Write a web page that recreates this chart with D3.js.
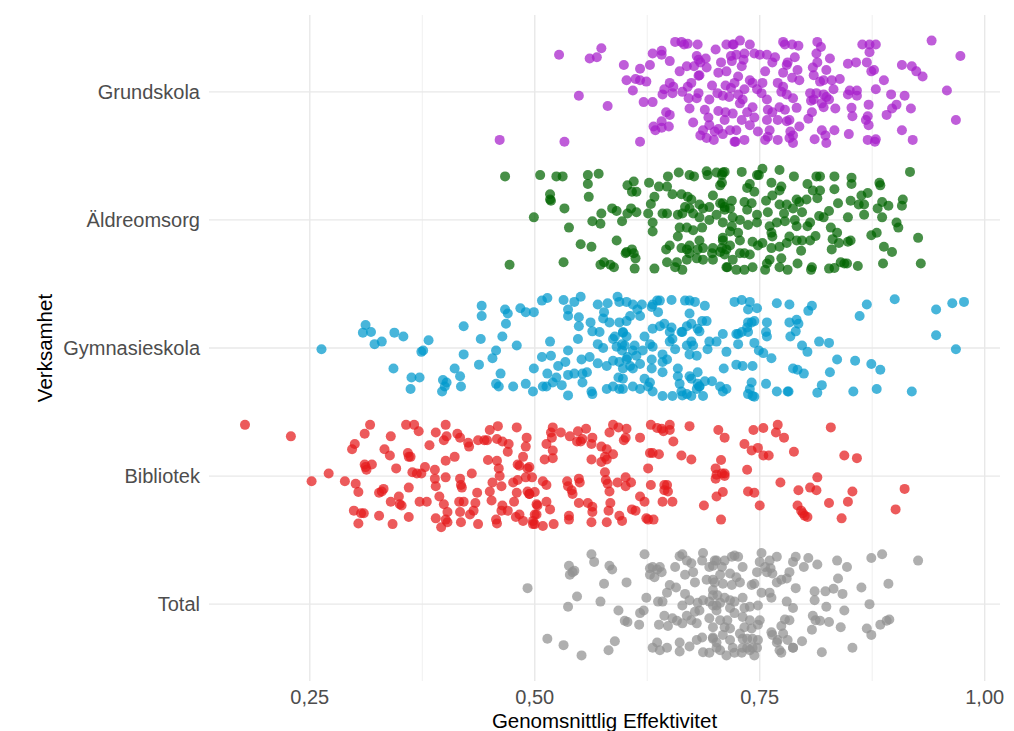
<!DOCTYPE html>
<html>
<head>
<meta charset="utf-8">
<script src="https://cdn.jsdelivr.net/npm/d3@7"></script>
<style>
  html, body { margin: 0; padding: 0; background: #ffffff; }
  svg { display: block; font-family: "Liberation Sans", Arial, sans-serif; }
</style>
</head>
<body>
<svg id="chart" width="1014" height="731"></svg>
<script>
// Verksamheter, listed top to bottom
const categories = ["Grundskola", "Äldreomsorg", "Gymnasieskola", "Bibliotek", "Total"];
const colors = ["#A61ECB", "#006400", "#0099CC", "#E41A1C", "#909090"];

// x-axis ticks
const xTicks = [0.25, 0.50, 0.75, 1.00];
const xTickLabels = ["0,25", "0,50", "0,75", "1,00"];
const xMinorTicks = [0.375, 0.625, 0.875];

// Each unit: [genomsnittlig effektivitet, vertical jitter within the row]
const grundskola = [
[.527,.29],[.561,.26],[.569,.27],[.574,.34],[.549,-.03],[.581,-.11],[.461,-.375],[.533,-.39],[.617,-.39],
[.599,.21],[.617,.18],[.628,.21],[.631,.30],[.641,.32],[.641,.29],[.650,.24],[.656,.39],[.663,.39],[.666,.37],
[.670,.375],[.681,.37],[.680,.28],[.682,.25],[.684,.23],[.690,.26],[.701,.33],[.713,.37],[.721,.37],[.661,.16],
[.669,.20],[.677,.20],[.682,.125],[.691,.19],[.707,.23],[.704,.15],[.713,.16],[.719,.24],[.718,.28],[.602,.09],
[.612,.10],[.617,.09],[.624,.08],[.609,.01],[.621,-.08],[.631,-.08],[.642,-.02],[.644,.02],[.650,.07],[.654,.04],
[.653,-.01],[.664,0],[.670,.04],[.674,.07],[.671,-.05],[.680,-.05],[.682,-.01],[.703,-.01],[.709,-.03],[.712,.05],
[.718,.03],[.716,-.04],[.646,-.16],[.650,-.18],[.672,-.13],[.632,-.27],[.634,-.30],[.641,-.23],[.641,-.28],
[.649,-.27],[.676,-.24],[.684,-.34],[.687,-.30],[.691,-.36],[.693,-.20],[.694,-.26],[.700,-.31],[.704,-.29],
[.709,-.33],[.704,-.15],[.712,-.16],[.720,-.17],[.723,-.39],
[.941,.40],[.973,.28],[.958,.01],[.968,-.22],[.920,-.375],[.908,-.30],[.918,-.13],[.911,-.03],[.902,-.10],
[.897,-.13],[.891,-.18],[.896,-.02],[.908,.21],[.919,.20],[.924,.16],[.931,.12],[.888,.09],[.879,.02],[.864,.37],
[.872,.37],[.879,.37],[.872,.31],[.869,.23],[.874,.16],[.877,.17],[.848,.22],[.857,.23],[.850,.01],[.858,.01],
[.858,-.03],[.848,-.02],[.871,-.10],[.852,-.125],[.853,-.19],[.870,-.19],[.868,-.22],[.871,-.26],[.870,-.375],
[.879,-.37],[.878,-.39],[.849,-.33],[.833,-.30],[.824,-.40],[.823,-.34],[.819,-.30],[.811,-.37],[.834,-.13],
[.832,.02],[.839,.10],[.828,.26],[.814,.39],[.818,.35],[.813,.30],[.814,.23],[.809,.19],[.810,.13],[.817,.08],
[.821,.09],[.824,.17],[.830,.09],[.806,-.01],[.810,-.06],[.807,-.07],[.813,-.01],[.821,-.02],[.827,-.06],
[.821,-.12],[.819,-.09],[.824,-.04],[.808,-.16],[.804,-.21],[.794,-.27],[.787,-.34],[.784,-.31],[.787,-.40],
[.791,-.125],[.787,-.05],[.776,.39],[.778,.37],[.786,.37],[.793,.36],[.789,.27],[.792,.17],[.794,.09],[.786,.11],
[.780,.21],[.781,.23],[.776,.15],[.770,.07],[.776,.04],[.774,0],[.780,-.02],[.772,-.12],[.778,-.14],[.780,-.23],
[.783,-.22],[.770,-.22],[.764,-.16],[.759,-.14],[.758,-.22],[.761,-.30],[.759,-.35],[.756,-.375],[.770,-.375],
[.783,-.36],[.764,.23],[.767,.27],[.756,.16],[.753,.07],[.752,-.01],[.758,-.06],[.744,.30],[.750,.29],[.758,.29],
[.733,.30],[.724,.29],[.720,.37],[.730,.20],[.726,.12],[.722,.07],[.739,.09],[.742,.07],[.747,.02],[.731,-.06],
[.728,-.09],[.736,-.16],[.730,-.22],[.724,-.30],[.733,-.375],[.722,-.39],[.742,-.12],[.744,-.20],
[.694,-.06],[.697,.05],[.689,-.14],[.711,-.22],[.717,-.30],[.699,-.375],[.683,.13],[.733,.02],[.726,-.02],
[.739,-.26],[.748,-.31],[.732,.25],[.739,.37],[.728,.40]
];

const aldreomsorg = [
[.467,.34],[.472,-.35],[.499,.02],[.506,.35],[.517,.20],[.517,.16],[.518,.15],[.524,.34],[.531,.34],[.533,.09],
[.538,-.06],[.532,-.33],[.551,-.19],[.563,-.21],[.559,.35],[.559,.28],[.560,.18],[.571,.36],[.574,.05],[.564,-.01],
[.573,-.03],[.586,.09],[.591,.07],[.597,-.01],[.591,-.16],[.573,-.35],[.577,-.33],[.584,-.35],[.588,-.37],
[.602,-.25],[.608,-.23],[.610,-.26],[.612,-.30],[.601,-.26],[.611,-.38],[.633,-.38],[.603,.27],[.610,.30],
[.608,.22],[.613,.22],[.607,.09],[.613,.06],[.603,.05],[.627,.29],[.633,.18],[.638,.26],[.647,.26],[.648,.34],
[.629,.125],[.626,.05],[.631,-.02],[.631,-.09],[.642,.05],[.647,.05],[.646,-.23],[.650,-.20],[.647,-.33],
[.658,-.33],[.656,-.37],[.659,-.13],[.661,-.06],[.669,-.06],[.676,-.08],[.686,-.06],[.660,.37],[.672,.35],
[.677,.34],[.691,.38],[.692,.35],[.702,.37],[.709,.37],[.706,.27],[.698,.19],[.653,.20],[.663,.20],[.670,.18],
[.674,.16],[.667,.10],[.672,.09],[.683,.12],[.687,.09],[.694,.10],[.706,.13],[.711,.10],[.659,.04],[.664,.05],
[.676,.05],[.683,.02],[.694,0],[.702,.04],[.709,-.02],[.663,-.22],[.669,-.23],[.672,-.26],[.681,-.23],[.687,-.22],
[.698,-.22],[.706,-.25],[.713,-.23],[.669,-.31],[.680,-.30],[.687,-.31],[.698,-.31],[.713,-.37],[.664,-.39],
[.672,-.20],[.683,-.16],[.697,-.26],[.709,-.14],[.717,-.20],
[.917,.375],[.926,-.14],[.929,-.34],[.908,.11],[.909,.16],[.902,-.02],[.904,-.06],[.888,-.21],[.897,-.25],
[.887,-.34],[.874,-.12],[.880,-.10],[.883,.29],[.884,.27],[.886,.14],[.893,.11],[.881,.09],[.886,.02],[.870,.21],
[.863,.19],[.860,.12],[.866,.12],[.866,.04],[.852,.33],[.852,.28],[.851,.15],[.848,.02],[.851,-.16],[.848,-.17],
[.859,-.36],[.833,.34],[.833,.24],[.837,.13],[.827,.07],[.821,.02],[.816,.03],[.829,-.06],[.836,-.10],[.831,-.15],
[.838,-.18],[.830,-.23],[.840,-.33],[.844,-.34],[.847,-.34],[.827,-.38],[.833,-.375],[.813,.34],[.817,.34],
[.803,.28],[.809,.23],[.817,.23],[.814,.17],[.802,.16],[.788,.34],[.791,.16],[.794,.14],[.797,.06],[.806,-.02],
[.803,-.05],[.812,-.125],[.806,-.16],[.797,-.16],[.796,-.24],[.792,-.34],[.808,-.37],[.807,-.39],[.781,-.39],
[.772,.39],[.763,.29],[.774,.26],[.772,.23],[.764,.19],[.757,.15],[.759,.06],[.772,.12],[.780,.12],[.777,.05],
[.778,-.01],[.787,.09],[.789,0],[.791,-.05],[.783,-.13],[.791,-.16],[.780,-.18],[.772,-.21],[.763,-.22],[.774,-.30],
[.772,-.37],[.761,-.31],[.764,-.13],[.763,-.10],[.761,-.05],[.769,-.02],[.753,.40],[.747,.35],[.749,.35],[.739,.28],
[.736,.25],[.744,.22],[.733,.14],[.741,.13],[.736,.08],[.747,.04],[.747,-.02],[.737,-.04],[.728,0],[.719,.15],
[.717,.09],[.720,.02],[.719,-.05],[.717,-.09],[.726,-.10],[.728,-.16],[.742,-.17],[.748,-.20],[.753,-.18],
[.733,-.26],[.739,-.27],[.728,-.26],[.720,-.31],[.714,-.37],[.724,-.39],[.733,-.39],[.742,-.37],[.756,-.39],
[.758,-.34],[.709,-.16],[.708,-.22],[.711,-.27],[.708,.35],[.711,.375],[.708,.29],[.711,.08],[.709,.13],[.730,.375]
];

const gymnasieskola = [
[.263,-.01],[.312,.18],[.309,.12],[.318,.125],[.322,.03],[.330,.05],[.344,.12],[.354,.09],[.343,-.16],[.363,-.23],
[.372,-.23],[.362,-.32],[.382,.06],[.374,-.03],[.376,-.02],[.398,-.25],[.402,-.27],[.400,-.30],[.397,-.34],
[.411,-.16],[.417,-.22],[.418,-.30],[.421,.17],[.421,-.05],[.438,-.13],[.440,.07],[.441,.33],[.441,.25],[.453,-.08],
[.457,-.02],[.457,-.28],[.460,-.30],[.462,-.20],[.464,.09],[.468,.19],[.467,.30],[.470,.27],[.480,.02],[.476,-.30],
[.490,-.28],[.484,.31],[.490,.28],[.499,.28],[.508,.37],[.514,.39],[.532,.375],[.544,.36],[.551,.40],[.537,.30],
[.537,.25],[.549,.24],[.549,.17],[.517,.05],[.508,-.07],[.518,-.06],[.499,-.16],[.514,-.20],[.526,-.14],[.534,-.11],
[.537,-.02],[.548,.07],[.498,-.34],[.509,-.30],[.513,-.30],[.520,-.27],[.530,-.29],[.537,-.37],[.524,-.23],
[.537,-.21],[.544,-.20],[.553,-.20],[.558,-.19],[.552,-.09],[.561,-.07],[.570,-.12],[.580,-.14],[.587,-.10],
[.594,-.11],[.602,-.09],[.553,-.27],[.563,-.34],[.564,-.36],[.580,-.32],[.587,-.30],[.594,-.32],[.593,-.23],
[.562,.20],[.564,.13],[.572,.125],[.570,.34],[.581,.35],[.592,.40],[.594,.36],[.602,.36],[.577,.28],[.576,.23],
[.583,.20],[.594,.20],[.589,.09],[.598,.12],[.587,.07],[.591,.01],[.597,-.02],[.570,.03],[.576,0],
[.900,.38],[.964,.35],[.977,.36],[.946,.30],[.946,.10],[.968,-.01],[.919,-.34],[.869,.34],[.861,.25],[.880,-.32],
[.854,-.34],[.884,-.17],[.874,-.125],[.856,-.10],[.836,-.09],[.828,-.19],[.819,-.29],[.814,-.35],[.804,.29],
[.808,.33],[.816,.05],[.827,.04],[.797,.02],[.803,-.03],[.783,.34],[.769,.35],[.783,.20],[.791,.22],[.793,.19],
[.790,.13],[.784,.09],[.787,-.16],[.792,-.17],[.799,-.20],[.769,-.34],[.781,-.34],[.782,-.34],[.757,-.28],
[.763,-.08],[.754,-.04],[.749,-.02],[.758,.20],[.757,.125],[.758,.09],[.744,.04],[.726,.03],[.744,.21],[.741,.20],
[.737,.20],[.736,.16],[.737,.125],[.730,.125],[.724,.11],[.737,.30],[.739,.36],[.730,.375],[.722,.36],[.747,.31],
[.742,-.14],[.731,-.14],[.724,-.13],[.710,-.16],[.713,-.32],[.706,-.30],[.709,-.34],[.697,-.26],[.689,-.26],
[.683,-.30],[.680,-.32],[.687,-.375],[.674,-.375],[.664,-.37],[.669,-.36],[.741,-.27],[.739,-.32],[.742,-.375],
[.744,-.38],[.737,-.36],[.709,.11],[.702,.05],[.694,.05],[.692,-.01],[.713,-.03],[.726,.11],[.686,.21],[.691,.21],
[.681,.15],[.683,.13],[.674,.05],[.676,.02],[.672,-.05],[.680,-.06],[.669,.02],[.663,.125],[.653,.07],[.650,.05],
[.656,-.01],[.642,-.05],[.647,-.09],[.642,-.19],[.659,-.16],[.659,-.22],[.661,-.28],[.672,-.22],[.674,-.24],
[.681,-.19],[.681,-.28],[.683,-.30],[.636,.37],[.639,.37],[.652,.375],[.667,.37],[.672,.37],[.678,.36],[.689,.33],
[.672,.27],[.674,.19],[.669,.17],[.652,.16],[.644,.19],[.639,.17],[.631,.15],[.664,.125],[.650,.125],[.631,.34],
[.630,.32],[.637,.28],[.619,.34],[.609,.34],[.614,.30],[.606,.25],[.602,.21],[.617,.25],[.598,.125],[.602,.09],
[.597,.03],[.600,.02],[.611,.02],[.609,-.02],[.622,.09],[.628,.03],[.631,.01],[.620,-.02],[.613,-.06],[.603,-.07],
[.606,-.14],[.598,-.16],[.609,-.16],[.617,-.125],[.630,-.09],[.630,-.16],[.642,-.11],[.622,-.24],[.628,-.27],
[.598,-.24],[.609,-.30],[.598,-.32],[.631,-.34],[.642,-.375],[.653,-.375],[.663,-.34],[.617,-.32],[.626,-.30]
];

const bibliotek = [
[.178,.40],[.229,.31],[.252,-.04],[.271,.02],[.289,-.04],[.301,-.06],[.304,-.125],[.299,-.27],[.307,-.29],
[.310,-.29],[.304,-.37],[.297,.21],[.300,.25],[.311,.33],[.317,.40],[.311,.09],[.313,.05],[.319,.09],[.312,.07],
[.327,-.31],[.342,-.375],[.327,-.13],[.332,-.10],[.330,-.12],[.333,.21],[.339,.16],[.340,.31],[.346,.06],
[.340,-.20],[.349,-.16],[.350,-.22],[.352,-.23],[.357,.40],[.366,.40],[.371,.35],[.359,.18],[.360,.15],[.362,.15],
[.360,-.09],[.360,-.32],[.364,.03],[.369,.02],[.374,.02],[.372,-.20],[.380,-.20],[.383,.24],[.378,.07],[.389,.05],
[.390,.34],[.401,.40],[.402,.31],[.399,.28],[.401,.12],[.411,.15],[.401,-.01],[.389,-.02],[.390,-.08],[.394,-.16],
[.399,-.22],[.403,-.28],[.390,-.33],[.396,-.40],[.401,-.34],[.403,-.36],[.414,.33],[.417,.30],[.426,.26],[.427,.23],
[.437,.28],[.444,.28],[.447,.28],[.417,-.02],[.418,-.07],[.419,-.09],[.430,.02],[.436,-.13],[.416,-.20],[.421,-.20],
[.434,-.21],[.432,-.27],[.417,-.28],[.428,-.30],[.437,-.375],[.418,-.36],[.450,.36],[.459,.39],[.458,.29],
[.464,.27],[.471,.25],[.470,.19],[.448,.125],[.458,.12],[.460,.06],[.461,0],[.453,-.05],[.463,-.08],[.476,-.05],
[.481,-.03],[.490,-.01],[.450,-.12],[.452,-.19],[.464,-.23],[.477,-.20],[.480,-.13],[.492,-.12],[.494,-.14],
[.463,-.27],[.470,-.27],[.457,-.34],[.458,-.37],[.479,-.32],[.483,-.30],[.487,-.35],[.498,-.35],[.500,-.375],
[.502,-.30],[.503,-.23],[.480,.38],[.491,.30],[.490,.23],[.487,.15],[.481,.09],[.483,.08],[.492,.06],
[.829,.38],[.844,.16],[.858,.14],[.911,-.10],[.901,-.26],[.814,-.01],[.806,-.09],[.813,-.11],[.793,-.11],
[.853,-.12],[.848,-.20],[.841,-.33],[.827,-.21],[.792,-.23],[.796,-.27],[.798,-.29],[.800,-.31],[.803,-.32],
[.788,.19],[.773,-.05],[.770,.40],[.768,.34],[.777,.30],[.754,.375],[.743,.36],[.733,.25],[.741,.20],[.748,.22],
[.754,.16],[.760,.16],[.736,.05],[.737,-.12],[.744,-.13],[.750,-.23],[.704,.36],[.711,.30],[.707,.125],[.701,.06],
[.702,.01],[.701,-.02],[.711,.02],[.711,0],[.708,.02],[.709,-.125],[.702,-.16],[.688,-.23],[.707,-.34],[.672,.39],
[.663,.16],[.674,.13],[.654,.27],[.653,-.20],[.642,-.20],[.644,-.07],[.647,-.07],[.644,-.11],[.648,-.12],
[.629,-.07],[.626,.06],[.628,.18],[.631,.18],[.638,.17],[.629,.40],[.636,.375],[.641,.37],[.643,.35],[.650,.40],
[.650,.36],[.617,.30],[.599,.28],[.601,.30],[.587,.40],[.593,.38],[.602,.37],[.583,.34],[.580,.21],[.574,.23],
[.587,.17],[.578,.15],[.580,.13],[.574,.11],[.578,.03],[.579,-.03],[.581,-.06],[.583,-.12],[.592,-.05],[.601,-.01],
[.601,-.08],[.607,-.05],[.617,-.16],[.622,-.20],[.608,-.26],[.612,-.27],[.594,-.31],[.597,-.35],[.584,-.21],
[.582,-.27],[.580,-.36],[.624,-.33],[.632,-.34],[.626,-.34],[.563,.13],[.563,.25],[.564,.30],[.553,.29],[.557,.37],
[.548,.35],[.547,.27],[.551,.27],[.539,.31],[.529,.34],[.520,.38],[.518,.34],[.519,.30],[.513,.25],[.511,.13],
[.520,.20],[.520,.14],[.536,-.04],[.537,-.08],[.541,-.11],[.542,-.14],[.549,-.02],[.550,-.05],[.564,-.24],
[.564,-.28],[.559,-.21],[.549,-.21],[.563,-.36],[.538,-.31],[.538,-.34],[.521,-.375],[.509,-.39],[.513,-.20],
[.517,-.26],[.502,-.22],[.500,-.30],[.498,-.375],[.509,-.04],[.513,-.07],[.500,-.125],[.494,-.14],[.497,-.01],[.494,.07]
];

const total = [
[.492,.125],[.514,-.27],[.532,-.32],[.552,-.40],[.537,-.02],[.547,.06],[.538,.30],[.539,.23],[.544,.26],[.542,.25],
[.563,.39],[.566,.33],[.577,.16],[.573,.02],[.583,.30],[.586,.27],[.602,.17],[.593,-.05],[.600,-.13],[.603,-.14],
[.616,-.16],[.617,-.07],[.621,-.05],[.589,-.29],[.582,-.36],[.622,.39],[.624,.05],[.628,.28],[.631,.29],[.636,.27],
[.639,.29],[.641,.25],[.628,.23],[.633,.21],[.637,.02],[.642,.02],[.647,.09],[.650,.15],[.657,.13],[.667,.08],
[.644,-.09],[.653,-.11],[.658,-.13],[.664,-.15],[.669,-.09],[.674,-.125],[.680,-.15],[.678,-.06],[.683,-.05],
[.638,-.16],[.648,-.17],[.636,-.30],[.631,-.34],[.639,-.36],[.647,-.34],[.661,-.30],[.661,-.37],[.672,-.33],
[.680,-.28],[.686,-.26],[.687,-.375],[.694,-.38],[.698,-.27],[.702,-.34],[.656,.29],[.661,.375],[.664,.39],
[.669,.34],[.674,.32],[.676,.25],[.667,.23],[.678,.17],[.686,.34],[.687,.40],[.694,.29],[.700,.34],[.698,.19],
[.691,.19],[.664,-.01],[.672,.03],[.681,.01],[.687,.03],[.694,.02],[.698,.07],[.702,-.01],[.694,-.11],[.698,-.18],
[.926,.34],[.886,.39],[.874,.36],[.893,.16],[.863,.13],[.872,0],[.894,-.12],[.891,-.13],[.884,-.16],[.869,-.19],
[.874,-.24],[.853,-.34],[.836,.34],[.847,.29],[.837,.20],[.832,.12],[.823,.10],[.842,.08],[.811,.10],[.811,.03],
[.824,-.02],[.844,-.05],[.809,-.09],[.812,-.125],[.817,-.13],[.827,-.14],[.840,-.18],[.808,-.20],[.819,-.375],
[.797,-.29],[.787,-.34],[.790,.125],[.804,.36],[.814,.31],[.799,.29],[.790,.37],[.787,.33],[.783,.25],[.780,.20],
[.774,.19],[.769,.17],[.764,.24],[.762,.28],[.769,.37],[.761,.34],[.752,.40],[.750,.33],[.756,.29],[.758,.25],
[.780,.02],[.787,-.03],[.783,-.125],[.778,-.12],[.774,-.17],[.776,-.23],[.781,-.28],[.787,-.34],[.770,-.28],
[.772,-.36],[.774,-.38],[.763,-.22],[.764,-.24],[.769,-.30],[.747,.25],[.744,.16],[.741,.15],[.752,.09],[.761,.09],
[.763,.05],[.748,-.01],[.739,-.02],[.733,-.03],[.750,-.125],[.748,-.16],[.741,-.19],[.742,-.27],[.748,-.28],
[.742,-.34],[.736,-.34],[.731,-.27],[.728,-.23],[.733,-.18],[.739,-.125],[.731,-.10],[.722,-.07],[.714,-.125],
[.711,-.18],[.717,-.19],[.706,-.125],[.731,.29],[.726,.37],[.722,.38],[.719,.37],[.711,.34],[.708,.29],[.702,.34],
[.698,.30],[.706,.23],[.717,.24],[.724,.21],[.728,.17],[.719,.15],[.709,.16],[.700,.17],[.698,.11],[.703,.07],
[.711,.05],[.717,.03],[.706,.01],[.698,-.01],[.722,.02],[.731,.05],[.717,-.03],[.702,-.05],[.698,-.26],[.702,-.30],
[.706,-.36],[.713,-.40],[.720,-.34],[.722,-.38],[.730,-.38],[.731,-.34],[.739,-.36],[.747,-.34],[.744,-.40],
[.736,-.27],[.717,-.28],[.709,-.24]
];

const seriesData = [grundskola, aldreomsorg, gymnasieskola, bibliotek, total];

const svg = d3.select("#chart");
const W = 1014, H = 731;
const margin = { top: 15, right: 14, bottom: 50, left: 209 };
const plotRight = W - margin.right;
const plotBottom = H - margin.bottom;

// x: continuous efficiency, y: row position (top row = highest index)
const x = d3.scaleLinear().domain([0.138, 1.017]).range([margin.left, plotRight]);
const nCat = categories.length;
const y = d3.scaleLinear().domain([nCat + 0.6, 0.4]).range([margin.top, plotBottom]);
const rowIndex = i => nCat - i;

const grid = svg.append("g");
grid.selectAll("line.minor").data(xMinorTicks).join("line")
  .attr("x1", d => x(d)).attr("x2", d => x(d))
  .attr("y1", margin.top).attr("y2", plotBottom)
  .attr("stroke", "#ececec").attr("stroke-width", 0.8);
grid.selectAll("line.majorx").data(xTicks).join("line")
  .attr("x1", d => x(d)).attr("x2", d => x(d))
  .attr("y1", margin.top).attr("y2", plotBottom)
  .attr("stroke", "#e8e8e8").attr("stroke-width", 1.4);
grid.selectAll("line.majory").data(categories).join("line")
  .attr("x1", margin.left).attr("x2", plotRight)
  .attr("y1", (d, i) => y(rowIndex(i))).attr("y2", (d, i) => y(rowIndex(i)))
  .attr("stroke", "#e8e8e8").attr("stroke-width", 1.4);

// points
const pts = svg.append("g");
seriesData.forEach((rows, i) => {
  pts.append("g")
    .selectAll("circle").data(rows).join("circle")
    .attr("cx", d => x(d[0]))
    .attr("cy", d => y(rowIndex(i) + d[1]))
    .attr("r", 5)
    .attr("fill", colors[i])
    .attr("fill-opacity", 0.72);
});

// y-axis labels
svg.append("g").selectAll("text").data(categories).join("text")
  .attr("x", margin.left - 9)
  .attr("y", (d, i) => y(rowIndex(i)))
  .attr("dy", "0.35em")
  .attr("text-anchor", "end")
  .attr("font-size", 20)
  .attr("fill", "#4d4d4d")
  .text(d => d);

// x-axis labels
svg.append("g").selectAll("text").data(xTicks).join("text")
  .attr("x", d => x(d))
  .attr("y", plotBottom + 23)
  .attr("text-anchor", "middle")
  .attr("font-size", 20)
  .attr("fill", "#4d4d4d")
  .text((d, i) => xTickLabels[i]);

// axis titles
svg.append("text")
  .attr("x", (margin.left + plotRight) / 2)
  .attr("y", H - 3)
  .attr("text-anchor", "middle")
  .attr("font-size", 20.5)
  .attr("fill", "#000")
  .text("Genomsnittlig Effektivitet");

svg.append("text")
  .attr("transform", `translate(52,${(margin.top + plotBottom) / 2}) rotate(-90)`)
  .attr("text-anchor", "middle")
  .attr("font-size", 20.5)
  .attr("fill", "#000")
  .text("Verksamhet");
</script>
</body>
</html>
